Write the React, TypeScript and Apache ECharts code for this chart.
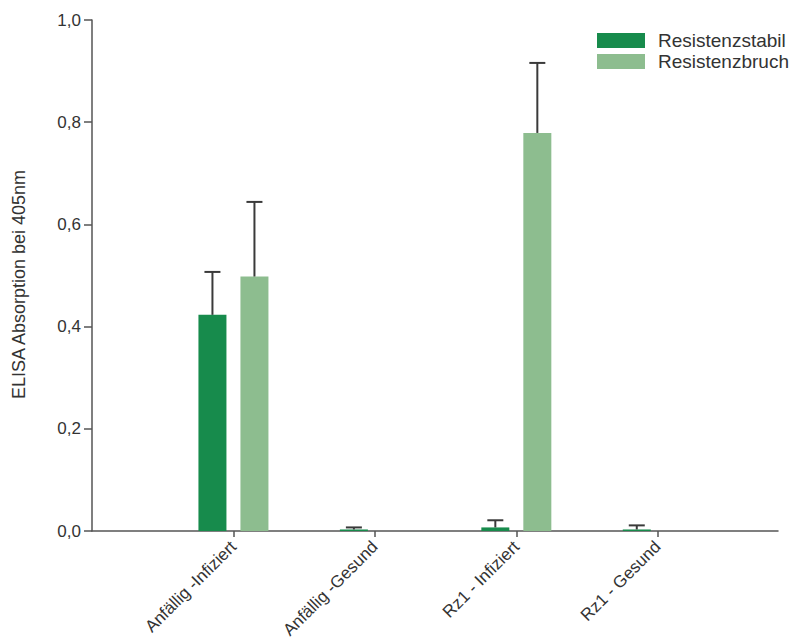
import React, { useEffect, useRef } from "react";
import * as echarts from "echarts";

const categories = ["Anfällig -Infiziert", "Anfällig -Gesund", "Rz1 - Infiziert", "Rz1 - Gesund"];
const categoryPositions = [1, 2, 3, 4];
const stabilMean = [0.423, 0.003, 0.007, 0.003];
const stabilErr = [0.084, 0.004, 0.014, 0.008];
const bruchMean = [0.498, 0, 0.779, 0];
const bruchErr = [0.146, 0, 0.137, 0];
const yTicks = [0, 0.2, 0.4, 0.6, 0.8, 1.0];

const DARK = "#178b4c";
const LIGHT = "#8dbd8f";
const ERR = "#3a3a3a";
const FONT = "Liberation Sans, Arial, sans-serif";

function makeRender(offset: number, color: string) {
  return (params: any, api: any) => {
    const x = api.value(0);
    const v = api.value(1);
    const e = api.value(2);
    const base = api.coord([x, 0]);
    const top = api.coord([x, v]);
    const errTop = api.coord([x, v + e]);
    const w = 28;
    const cx = base[0] + offset;
    const children: any[] = [];
    if (v > 0) {
      children.push({
        type: "rect",
        shape: { x: cx - w / 2, y: top[1], width: w, height: Math.max(base[1] - top[1], 0.5) },
        style: { fill: color },
      });
    }
    if (e > 0) {
      children.push({
        type: "line",
        shape: { x1: cx, y1: top[1], x2: cx, y2: errTop[1] },
        style: { stroke: ERR, lineWidth: 2 },
      });
      children.push({
        type: "line",
        shape: { x1: cx - 8, y1: errTop[1], x2: cx + 8, y2: errTop[1] },
        style: { stroke: ERR, lineWidth: 2 },
      });
    }
    return { type: "group", children };
  };
}

export default function App() {
  const ref = useRef<HTMLDivElement>(null);
  useEffect(() => {
    if (!ref.current) return;
    const chart = echarts.init(ref.current, undefined, { renderer: "svg" });
    const stabilData = categoryPositions.map((p, i) => [p, stabilMean[i], stabilErr[i]]);
    const bruchData = categoryPositions.map((p, i) => [p, bruchMean[i], bruchErr[i]]);
    chart.setOption({
      animation: false,
      backgroundColor: "#ffffff",
      grid: { left: 92, top: 20, right: 15, bottom: 113 },
      legend: {
        left: 592,
        top: 26,
        orient: "vertical",
        icon: "rect",
        itemWidth: 48,
        itemHeight: 15,
        itemGap: 2,
        textStyle: {
          fontFamily: FONT,
          fontSize: 19,
          lineHeight: 19,
          color: "#333",
          padding: [0, 0, 0, 8],
        },
        data: ["Resistenzstabil", "Resistenzbruch"],
        selectedMode: false,
      },
      xAxis: {
        type: "value",
        min: 0,
        max: 4.85,
        splitLine: { show: false },
        axisLine: { show: true, lineStyle: { color: "#555", width: 1.5 } },
        axisTick: {
          show: true,
          length: 6,
          customValues: categoryPositions,
          lineStyle: { color: "#555", width: 1.5 },
        },
        axisLabel: {
          customValues: categoryPositions,
          rotate: 45,
          margin: 13,
          fontFamily: FONT,
          fontSize: 17,
          color: "#333",
          formatter: (v: number) => {
            const idx = categoryPositions.indexOf(Math.round(v));
            return idx >= 0 ? categories[idx] : "";
          },
        },
      },
      yAxis: {
        type: "value",
        min: 0,
        max: 1,
        interval: 0.2,
        name: "ELISA Absorption bei 405nm",
        nameLocation: "middle",
        nameGap: 64,
        nameTextStyle: { fontFamily: FONT, fontSize: 18, color: "#333", padding: [0, 18, 0, 0] },
        splitLine: { show: false },
        axisLine: { show: true, lineStyle: { color: "#555", width: 1.5 } },
        axisTick: { show: true, length: 8, lineStyle: { color: "#555", width: 1.5 } },
        axisLabel: {
          margin: 11,
          fontFamily: FONT,
          fontSize: 17,
          color: "#333",
          customValues: yTicks,
          formatter: (v: number) => v.toFixed(1).replace(".", ","),
        },
      },
      series: [
        {
          name: "Resistenzstabil",
          type: "custom",
          itemStyle: { color: DARK },
          renderItem: makeRender(-21, DARK),
          data: stabilData,
          encode: { x: 0, y: 1 },
        },
        {
          name: "Resistenzbruch",
          type: "custom",
          itemStyle: { color: LIGHT },
          renderItem: makeRender(21, LIGHT),
          data: bruchData,
          encode: { x: 0, y: 1 },
        },
      ],
    });
    return () => chart.dispose();
  }, []);
  return <div ref={ref} style={{ width: 793, height: 644, position: "absolute", left: 0, top: 0 }} />;
}
